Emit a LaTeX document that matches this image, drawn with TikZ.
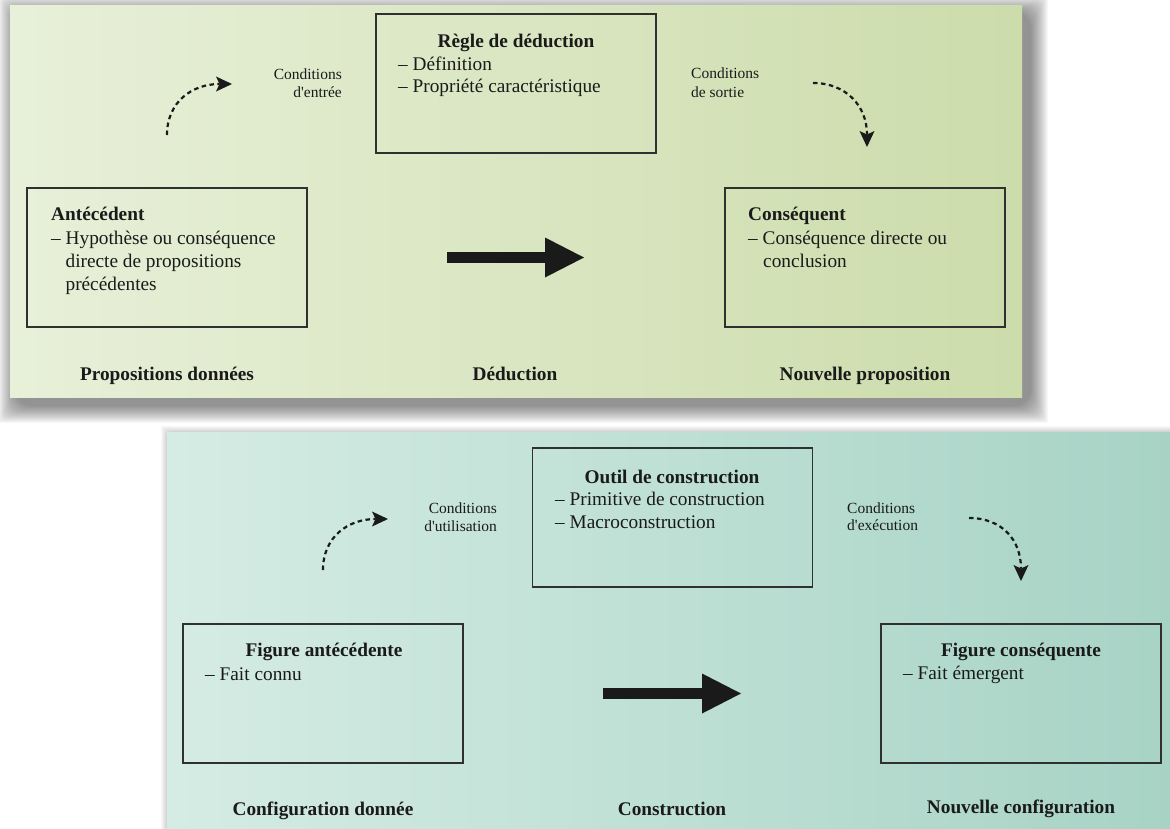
\documentclass[tikz,border=0pt]{standalone}
\usepackage{fontspec}
\setmainfont{Liberation Serif}
\usetikzlibrary{arrows.meta}

\definecolor{ink}{HTML}{1A1A1A}
\definecolor{boxline}{HTML}{303030}
\definecolor{topL}{HTML}{E8F0D9}
\definecolor{topR}{HTML}{CCDCAB}
\definecolor{botL}{HTML}{D5ECE4}
\definecolor{botR}{HTML}{A7D3C5}

\begin{document}
\begin{tikzpicture}[x=1pt,y=-1pt,
  box/.style={draw=boxline, line width=1.8pt, inner sep=0pt,
    minimum width=280pt, minimum height=139pt},
  head/.style={font=\fontsize{19.3}{23}\selectfont\bfseries, text=ink, inner sep=0pt},
  item/.style={font=\fontsize{19.3}{23}\selectfont, text=ink, inner sep=0pt},
  note/.style={font=\fontsize{15.5}{18}\selectfont, text=ink, inner sep=0pt},
  flow/.style={draw=ink, line width=11pt,
    -{Triangle[length=39pt,width=40pt,line width=0pt]}},
  cond/.style={draw=ink, line width=2.2pt, dash pattern=on 4.5pt off 3.5pt,
    -{Stealth[length=16pt,width=15pt,inset=3.5pt,line width=0pt]}},
  soft/.style={fill=black, opacity=0.026, rounded corners=#1},
]
\useasboundingbox (0,0) rectangle (1170,828);
\fill[white] (0,0) rectangle (1170,828);

% ---------- deduction panel ----------
% soft drop shadow built from stacked translucent layers
\foreach \i in {0,...,17}{
  \fill[soft=\i pt] (16-18+\i,13-18+\i) rectangle (1030+18-\i,405+18-\i);
}
\shade[left color=topL, right color=topR] (10,5) rectangle (1022,397);

\node[box] (regle)  at (516,83.5)  {};
\node[box] (ante)   at (167,257.5) {};
\node[box] (conseq) at (865,257.5) {};

\node[head, anchor=base] (regle-h) at (516,47) {Règle de déduction};
\node[item, anchor=base west] (regle-1) at (398,70) {– Définition};
\node[item, anchor=base west] (regle-2) at (398,92) {– Propriété caractéristique};

\node[head, anchor=base west] (ante-h) at (51,220) {Antécédent};
\node[item, anchor=base west] (ante-1) at (51,244) {– Hypothèse ou conséquence};
\node[item, anchor=base west] (ante-2) at (65.4,267) {directe de propositions};
\node[item, anchor=base west] (ante-3) at (65.4,290) {précédentes};

\node[head, anchor=base west] (conseq-h) at (748,220) {Conséquent};
\node[item, anchor=base west] (conseq-1) at (748,244) {– Conséquence directe ou};
\node[item, anchor=base west] (conseq-2) at (763,267) {conclusion};

\node[note, anchor=base east] (in-1) at (342,79) {Conditions};
\node[note, anchor=base east] (in-2) at (342,97) {d\textquotesingle entrée};
\node[note, anchor=base west] (out-1) at (691,78) {Conditions};
\node[note, anchor=base west] (out-2) at (691,97) {de sortie};

\coordinate (in-from) at (167,135);
\coordinate (in-to)   at (232,84);
\draw[cond] (in-from) .. controls (167,102) and (192,84) .. (in-to);
\coordinate (out-from) at (813,83);
\coordinate (out-to)   at (867,147);
\draw[cond] (out-from) .. controls (846,83) and (867,106) .. (out-to);

\coordinate (ded-from) at (447,257.5);
\coordinate (ded-to)   at (584,257.5);
\draw[flow] (ded-from) -- (ded-to);

\node[head, anchor=base] (lab-1) at (167,380) {Propositions données};
\node[head, anchor=base] (lab-2) at (515,380) {Déduction};
\node[head, anchor=base] (lab-3) at (865,380) {Nouvelle proposition};

% ---------- construction panel ----------
\foreach \i in {0,...,5}{
  \fill[soft=\i pt] (167-6+\i,432-6+\i) rectangle (1176,834);
}
\shade[left color=botL, right color=botR] (167,432) rectangle (1170,828);

\node[box] (outil) at (672.5,517.5) {};
\node[box] (figA)  at (323,693.5)   {};
\node[box] (figC)  at (1021,693.5)  {};

\node[head, anchor=base] (outil-h) at (672,483) {Outil de construction};
\node[item, anchor=base west] (outil-1) at (555,505) {– Primitive de construction};
\node[item, anchor=base west] (outil-2) at (555,528) {– Macroconstruction};

\node[head, anchor=base] (figA-h) at (324,656) {Figure antécédente};
\node[item, anchor=base west] (figA-1) at (205,680) {– Fait connu};

\node[head, anchor=base] (figC-h) at (1021,656) {Figure conséquente};
\node[item, anchor=base west] (figC-1) at (903,679) {– Fait émergent};

\node[note, anchor=base east] (use-1) at (497,513) {Conditions};
\node[note, anchor=base east] (use-2) at (497,531) {d\textquotesingle utilisation};
\node[note, anchor=base west] (exe-1) at (847,513) {Conditions};
\node[note, anchor=base west] (exe-2) at (847,530) {d\textquotesingle exécution};

\coordinate (use-from) at (323,570);
\coordinate (use-to)   at (388,519);
\draw[cond] (use-from) .. controls (323,537) and (348,519) .. (use-to);
\coordinate (exe-from) at (969,518);
\coordinate (exe-to)   at (1021,581);
\draw[cond] (exe-from) .. controls (1002,518) and (1021,540) .. (exe-to);

\coordinate (con-from) at (603,693.5);
\coordinate (con-to)   at (741,693.5);
\draw[flow] (con-from) -- (con-to);

\node[head, anchor=base] (lab-4) at (323,815)  {Configuration donnée};
\node[head, anchor=base] (lab-5) at (672,815)  {Construction};
\node[head, anchor=base] (lab-6) at (1021,813) {Nouvelle configuration};
\end{tikzpicture}
\end{document}
